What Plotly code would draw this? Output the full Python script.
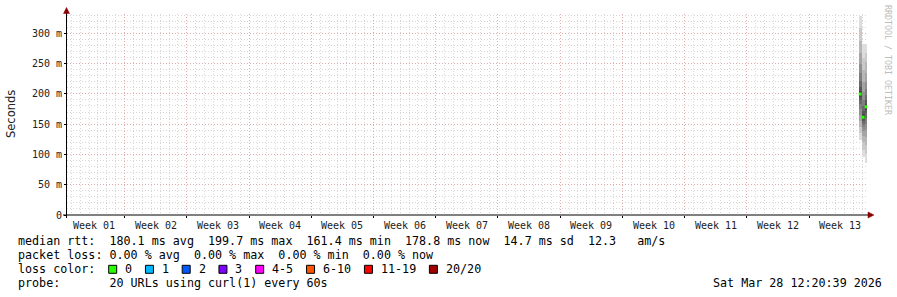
import plotly.graph_objects as go
import pandas as pd

# ---------------- data ----------------
GRAPH_END = pd.Timestamp("2026-03-28 12:20:39")
GRAPH_START = GRAPH_END - pd.Timedelta(days=90)

BIN_START = ["2026-03-27 14:00:00", "2026-03-27 22:00:00", "2026-03-28 06:00:00"]
BIN_END = ["2026-03-27 22:00:00", "2026-03-28 06:00:00", "2026-03-28 12:20:39"]
MEDIAN_MS = [199.7, 161.4, 178.8]
# 20 sorted ping rtts per bin (ms)
PINGS_BIN1 = [124, 135, 145, 155, 165, 175, 183, 190, 195, 199, 200.4, 205, 212, 222, 235, 250, 268, 288, 308, 329]
PINGS_BIN2 = [96, 108, 120, 130, 138, 145, 150, 155, 158, 161, 162, 166, 172, 180, 190, 203, 220, 240, 260, 283]
PINGS_BIN3 = [86, 100, 115, 128, 140, 150, 160, 168, 174, 178, 179.6, 184, 190, 198, 208, 220, 235, 252, 268, 283]

Y_TICKS = [0, 50, 100, 150, 200, 250, 300]
Y_TICK_TEXT = ["0", "50 m", "100 m", "150 m", "200 m", "250 m", "300 m"]
WEEK_LABELS = ["Week %02d" % i for i in range(1, 14)]
WEEK_STARTS = pd.date_range("2025-12-28", periods=14, freq="7D")
DAYS = pd.date_range("2025-12-29", "2026-03-28", freq="D")

LOSS_LABELS = ["0", "1", "2", "3", "4-5", "6-10", "11-19", "20/20"]
LOSS_COLORS = ["#26ff00", "#00b8ff", "#0059ff", "#7e00ff", "#ff00ff", "#ff5500", "#ff0000", "#a10000"]

LEGEND_ROWS = [
    "median rtt:  180.1 ms avg  199.7 ms max  161.4 ms min  178.8 ms now  14.7 ms sd  12.3   am/s",
    "packet loss: 0.00 % avg  0.00 % max  0.00 % min  0.00 % now",
    "loss color:",
    "probe:       20 URLs using curl(1) every 60s",
]
TIMESTAMP_TEXT = "Sat Mar 28 12:20:39 2026"
WATERMARK = "RRDTOOL / TOBI OETIKER"

# ---------------- layout helpers ----------------
W, H = 897, 297
ML, MR, MT, MB = 67, 30, 14, 82
PW, PH = W - ML - MR, H - MT - MB
MONO = "DejaVu Sans Mono"
Y_MAX = PH / (181.7 / 300.0)


def px(x):
    return (x - ML) / PW


def py(y):
    return (H - MB - y) / PH


fig = go.Figure()

# ---------------- smoke ----------------
bins = [PINGS_BIN1, PINGS_BIN2, PINGS_BIN3]
starts = [pd.Timestamp(s) for s in BIN_START]
ends = [pd.Timestamp(e) for e in BIN_END]
centers = [s + (e - s) / 2 for s, e in zip(starts, ends)]
widths = [(e - s).total_seconds() * 1000 for s, e in zip(starts, ends)]
n = len(PINGS_BIN1)
half = n // 2
for k in range(half):
    g = int(190 / half * (half - (k + 1))) + 50
    col = "rgb(%d,%d,%d)" % (g, g, g)
    lows = [b[k] for b in bins]
    highs = [b[n - 1 - k] for b in bins]
    fig.add_trace(go.Bar(
        x=centers, base=lows, y=[h - l for h, l in zip(highs, lows)],
        width=widths, marker=dict(color=col, line=dict(width=0)),
        showlegend=False, hoverinfo="skip",
    ))

# ---------------- median ----------------
mx, my = [], []
for s, e, m in zip(starts, ends, MEDIAN_MS):
    mx += [s, e, None]
    my += [m, m, None]
fig.add_trace(go.Scatter(x=mx, y=my, mode="lines",
                         line=dict(color=LOSS_COLORS[0], width=3),
                         showlegend=False, hoverinfo="skip"))

MGRID = "rgba(240,110,110,0.42)"
GRID = "rgba(150,150,150,0.38)"
DASH = "1px,2px"

fig.update_layout(
    width=W, height=H, autosize=False,
    margin=dict(l=ML, r=MR, t=MT, b=MB, pad=0),
    paper_bgcolor="white", plot_bgcolor="white",
    barmode="overlay", bargap=0,
    showlegend=False,
    font=dict(family=MONO, size=10, color="black"),
    xaxis=dict(
        type="date", range=[GRAPH_START, GRAPH_END],
        tickmode="array", tickvals=list(WEEK_STARTS), showticklabels=False,
        showgrid=True, gridcolor=MGRID, griddash=DASH, gridwidth=1,
        ticks="outside", ticklen=2, tickcolor="black",
        zeroline=False, showline=False, fixedrange=True,
        minor=dict(tickmode="array", tickvals=list(DAYS), showgrid=True,
                   gridcolor=GRID, griddash=DASH, gridwidth=1, ticks=""),
    ),
    yaxis=dict(
        range=[0, Y_MAX], tickmode="array", tickvals=Y_TICKS, ticktext=Y_TICK_TEXT,
        showgrid=True, gridcolor=MGRID, griddash=DASH, gridwidth=1,
        ticks="outside", ticklen=2, tickcolor="black",
        tickfont=dict(family=MONO, size=10, color="#222"),
        zeroline=False, showline=False, fixedrange=True,
        minor=dict(dtick=10, tick0=0, showgrid=True, gridcolor=GRID,
                   griddash=DASH, gridwidth=1, ticks=""),
    ),
)

shapes = []
# axis lines
shapes.append(dict(type="line", xref="paper", yref="paper",
                   x0=px(63), x1=px(868), y0=py(215), y1=py(215),
                   line=dict(color="black", width=1)))
shapes.append(dict(type="line", xref="paper", yref="paper",
                   x0=px(66.5), x1=px(66.5), y0=py(218), y1=py(12),
                   line=dict(color="black", width=1)))
# arrows
ARROW = "#8b0000"
shapes.append(dict(type="path", xref="paper", yref="paper",
                   path="M %f,%f L %f,%f L %f,%f Z" % (px(868), py(212), px(874), py(215), px(868), py(218)),
                   fillcolor=ARROW, line=dict(color=ARROW, width=0.5)))
shapes.append(dict(type="path", xref="paper", yref="paper",
                   path="M %f,%f L %f,%f L %f,%f Z" % (px(63.5), py(13.5), px(66.5), py(7.5), px(69.5), py(13.5)),
                   fillcolor=ARROW, line=dict(color=ARROW, width=0.5)))

annotations = []
# week labels centred on each week
for i, lab in enumerate(WEEK_LABELS):
    c = WEEK_STARTS[i] + pd.Timedelta(hours=84)
    annotations.append(dict(x=c, y=py(225), xref="x", yref="paper", text=lab,
                            showarrow=False, xanchor="center", yanchor="middle",
                            font=dict(family=MONO, size=10, color="#222")))

# y axis title
annotations.append(dict(x=px(11), y=py(114), xref="paper", yref="paper", text="Seconds",
                        textangle=-90, showarrow=False, xanchor="center", yanchor="middle",
                        font=dict(family="DejaVu Sans", size=11.5, color="#222")))
# watermark
annotations.append(dict(x=px(888), y=py(60), xref="paper", yref="paper", text=WATERMARK,
                        textangle=90, showarrow=False, xanchor="center", yanchor="middle",
                        font=dict(family=MONO, size=8.3, color="#bdbdbd")))

ROW_Y = [241.3, 255.3, 269.3, 283.0]
LEG_FONT = dict(family=MONO, size=11.7, color="black")
CH = 7.05
for txt, yy in zip(LEGEND_ROWS, ROW_Y):
    annotations.append(dict(x=px(16), y=py(yy), xref="paper", yref="paper", text=txt.replace(" ", "&nbsp;"),
                            showarrow=False, xanchor="left", yanchor="middle", font=LEG_FONT))

# loss colour legend items
bx = 108.7
for lab, col in zip(LOSS_LABELS, LOSS_COLORS):
    shapes.append(dict(type="rect", xref="paper", yref="paper",
                       x0=px(bx), x1=px(bx + 8), y0=py(ROW_Y[2] + 4), y1=py(ROW_Y[2] - 4),
                       fillcolor=col, line=dict(color="black", width=1)))
    tx = bx + 14.3
    annotations.append(dict(x=px(tx), y=py(ROW_Y[2]), xref="paper", yref="paper", text=lab,
                            showarrow=False, xanchor="left", yanchor="middle", font=LEG_FONT))
    bx = tx + len(lab) * CH + 15.4

annotations.append(dict(x=px(884), y=py(ROW_Y[3]), xref="paper", yref="paper", text=TIMESTAMP_TEXT,
                        showarrow=False, xanchor="right", yanchor="middle", font=LEG_FONT))

fig.update_layout(shapes=shapes, annotations=annotations)
fig.write_html("out.html")
